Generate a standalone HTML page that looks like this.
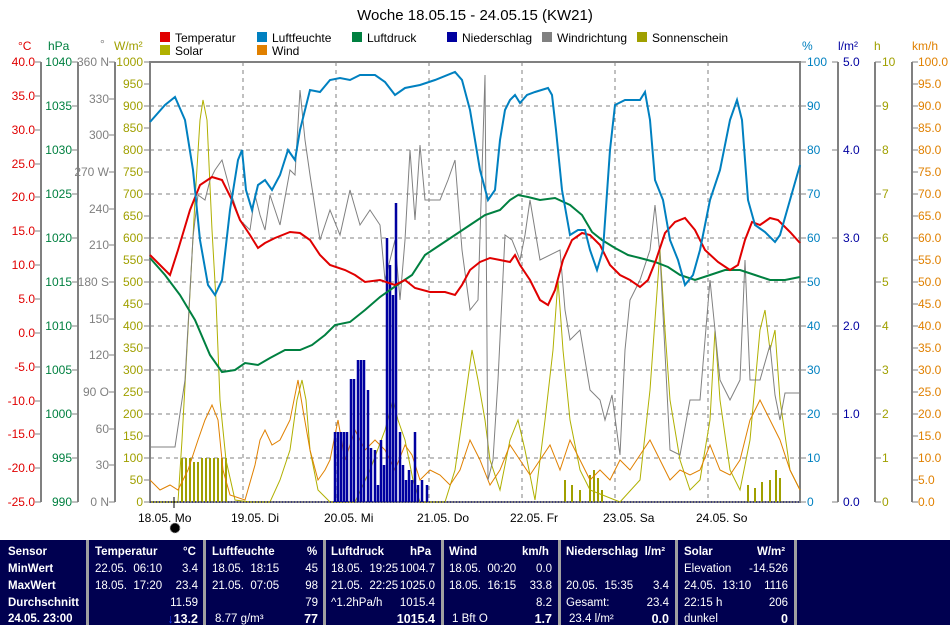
<!DOCTYPE html>
<html><head><meta charset="utf-8"><style>
body{margin:0;background:#fff;width:950px;height:625px;overflow:hidden;font-family:"Liberation Sans",sans-serif}
svg text{font-family:"Liberation Sans",sans-serif;font-size:12px}
#tbl{position:absolute;left:0;top:540px;width:950px;height:85px;background:#000050;color:#fff;font-size:11.5px;line-height:13px}
.c{position:absolute;top:0;height:85px;border-left:3px solid #a0a0a0}
.r{position:absolute;white-space:pre}
.b{font-weight:bold}
</style></head><body>
<svg width="950" height="540" style="position:absolute;left:0;top:0">
<text x="475" y="20" text-anchor="middle" style="font-size:15px">Woche 18.05.15 - 24.05.15 (KW21)</text>
<g>
<rect x="160" y="32" width="10" height="10" fill="#e00000"/><text x="175" y="42">Temperatur</text>
<rect x="257" y="32" width="10" height="10" fill="#0080c0"/><text x="272" y="42">Luftfeuchte</text>
<rect x="352" y="32" width="10" height="10" fill="#008040"/><text x="367" y="42">Luftdruck</text>
<rect x="447" y="32" width="10" height="10" fill="#0000a0"/><text x="462" y="42">Niederschlag</text>
<rect x="542" y="32" width="10" height="10" fill="#808080"/><text x="557" y="42">Windrichtung</text>
<rect x="637" y="32" width="10" height="10" fill="#a0a000"/><text x="652" y="42">Sonnenschein</text>
<rect x="160" y="45" width="10" height="10" fill="#b0b000"/><text x="175" y="55">Solar</text>
<rect x="257" y="45" width="10" height="10" fill="#e08000"/><text x="272" y="55">Wind</text>
</g>
<text x="18" y="50" fill="#e00000">°C</text>
<text x="48" y="50" fill="#008040">hPa</text>
<text x="100" y="48" fill="#808080">°</text>
<text x="114" y="50" fill="#a0a000">W/m²</text>
<text x="802" y="50" fill="#0080c0">%</text>
<text x="838" y="50" fill="#0000a0">l/m²</text>
<text x="874" y="50" fill="#a0a000">h</text>
<text x="912" y="50" fill="#e08000">km/h</text>
<g stroke="#808080" stroke-width="2">
<line x1="41" y1="62" x2="41" y2="502"/><line x1="78" y1="62" x2="78" y2="502"/><line x1="115" y1="62" x2="115" y2="502"/>
<line x1="838" y1="62" x2="838" y2="502"/><line x1="875" y1="62" x2="875" y2="502"/><line x1="912" y1="62" x2="912" y2="502"/>
</g>
<g stroke="#808080" stroke-dasharray="4,4" stroke-width="1">
<line x1="150" y1="106" x2="800" y2="106"/><line x1="150" y1="150" x2="800" y2="150"/><line x1="150" y1="194" x2="800" y2="194"/><line x1="150" y1="238" x2="800" y2="238"/><line x1="150" y1="282" x2="800" y2="282"/><line x1="150" y1="326" x2="800" y2="326"/><line x1="150" y1="370" x2="800" y2="370"/><line x1="150" y1="414" x2="800" y2="414"/><line x1="150" y1="458" x2="800" y2="458"/>
<line x1="243" y1="62" x2="243" y2="502"/><line x1="336" y1="62" x2="336" y2="502"/><line x1="429" y1="62" x2="429" y2="502"/><line x1="522" y1="62" x2="522" y2="502"/><line x1="615" y1="62" x2="615" y2="502"/><line x1="708" y1="62" x2="708" y2="502"/>
</g>
<rect x="150" y="62" width="650" height="440" fill="none" stroke="#808080" stroke-width="2"/>
<g fill="#e00000" text-anchor="end">
<text x="35" y="66">40.0</text><text x="35" y="100">35.0</text><text x="35" y="134">30.0</text><text x="35" y="168">25.0</text><text x="35" y="201">20.0</text><text x="35" y="235">15.0</text><text x="35" y="269">10.0</text><text x="35" y="303">5.0</text><text x="35" y="337">0.0</text><text x="35" y="371">-5.0</text><text x="35" y="405">-10.0</text><text x="35" y="438">-15.0</text><text x="35" y="472">-20.0</text><text x="35" y="506">-25.0</text>
</g>
<g stroke="#808080"><path d="M35 62h6M35 96h6M35 130h6M35 164h6M35 197h6M35 231h6M35 265h6M35 299h6M35 333h6M35 367h6M35 401h6M35 434h6M35 468h6M35 502h6"/>
<path d="M72 62h6M72 106h6M72 150h6M72 194h6M72 238h6M72 282h6M72 326h6M72 370h6M72 414h6M72 458h6M72 502h6"/>
<path d="M109 62h6M109 99h6M109 135h6M109 172h6M109 209h6M109 245h6M109 282h6M109 319h6M109 355h6M109 392h6M109 429h6M109 465h6M109 502h6"/>
<path d="M144 62h6M144 84h6M144 106h6M144 128h6M144 150h6M144 172h6M144 194h6M144 216h6M144 238h6M144 260h6M144 282h6M144 304h6M144 326h6M144 348h6M144 370h6M144 392h6M144 414h6M144 436h6M144 458h6M144 480h6M144 502h6"/>
<path d="M800 62h6M800 106h6M800 150h6M800 194h6M800 238h6M800 282h6M800 326h6M800 370h6M800 414h6M800 458h6M800 502h6"/>
<path d="M832 62h6M832 150h6M832 238h6M832 326h6M832 414h6M832 502h6"/>
<path d="M875 62h6M875 106h6M875 150h6M875 194h6M875 238h6M875 282h6M875 326h6M875 370h6M875 414h6M875 458h6M875 502h6"/>
<path d="M912 62h6M912 84h6M912 106h6M912 128h6M912 150h6M912 172h6M912 194h6M912 216h6M912 238h6M912 260h6M912 282h6M912 304h6M912 326h6M912 348h6M912 370h6M912 392h6M912 414h6M912 436h6M912 458h6M912 480h6M912 502h6"/>
</g>
<g fill="#008040" text-anchor="end">
<text x="72" y="66">1040</text><text x="72" y="110">1035</text><text x="72" y="154">1030</text><text x="72" y="198">1025</text><text x="72" y="242">1020</text><text x="72" y="286">1015</text><text x="72" y="330">1010</text><text x="72" y="374">1005</text><text x="72" y="418">1000</text><text x="72" y="462">995</text><text x="72" y="506">990</text>
</g>
<g fill="#808080" text-anchor="end">
<text x="109" y="66">360 N</text><text x="109" y="103">330</text><text x="109" y="139">300</text><text x="109" y="176">270 W</text><text x="109" y="213">240</text><text x="109" y="249">210</text><text x="109" y="286">180 S</text><text x="109" y="323">150</text><text x="109" y="359">120</text><text x="109" y="396">90 O</text><text x="109" y="433">60</text><text x="109" y="469">30</text><text x="109" y="506">0 N</text>
</g>
<g fill="#a0a000" text-anchor="end">
<text x="143" y="66">1000</text><text x="143" y="88">950</text><text x="143" y="110">900</text><text x="143" y="132">850</text><text x="143" y="154">800</text><text x="143" y="176">750</text><text x="143" y="198">700</text><text x="143" y="220">650</text><text x="143" y="242">600</text><text x="143" y="264">550</text><text x="143" y="286">500</text><text x="143" y="308">450</text><text x="143" y="330">400</text><text x="143" y="352">350</text><text x="143" y="374">300</text><text x="143" y="396">250</text><text x="143" y="418">200</text><text x="143" y="440">150</text><text x="143" y="462">100</text><text x="143" y="484">50</text><text x="143" y="506">0</text>
</g>
<g fill="#0080c0">
<text x="807" y="66">100</text><text x="807" y="110">90</text><text x="807" y="154">80</text><text x="807" y="198">70</text><text x="807" y="242">60</text><text x="807" y="286">50</text><text x="807" y="330">40</text><text x="807" y="374">30</text><text x="807" y="418">20</text><text x="807" y="462">10</text><text x="807" y="506">0</text>
</g>
<g fill="#0000a0">
<text x="843" y="66">5.0</text><text x="843" y="154">4.0</text><text x="843" y="242">3.0</text><text x="843" y="330">2.0</text><text x="843" y="418">1.0</text><text x="843" y="506">0.0</text>
</g>
<g fill="#a0a000">
<text x="882" y="66">10</text><text x="882" y="110">9</text><text x="882" y="154">8</text><text x="882" y="198">7</text><text x="882" y="242">6</text><text x="882" y="286">5</text><text x="882" y="330">4</text><text x="882" y="374">3</text><text x="882" y="418">2</text><text x="882" y="462">1</text><text x="882" y="506">0</text>
</g>
<g fill="#e08000">
<text x="918" y="66">100.0</text><text x="918" y="88">95.0</text><text x="918" y="110">90.0</text><text x="918" y="132">85.0</text><text x="918" y="154">80.0</text><text x="918" y="176">75.0</text><text x="918" y="198">70.0</text><text x="918" y="220">65.0</text><text x="918" y="242">60.0</text><text x="918" y="264">55.0</text><text x="918" y="286">50.0</text><text x="918" y="308">45.0</text><text x="918" y="330">40.0</text><text x="918" y="352">35.0</text><text x="918" y="374">30.0</text><text x="918" y="396">25.0</text><text x="918" y="418">20.0</text><text x="918" y="440">15.0</text><text x="918" y="462">10.0</text><text x="918" y="484">5.0</text><text x="918" y="506">0.0</text>
</g>
<g stroke="#a0a000" stroke-width="2">
<path d="M182 502V458M186 502V458M190 502V458M194 502V462M198 502V462M202 502V458M206 502V458M210 502V458M214 502V458M218 502V458M222 502V458M226 502V458"/>
<path d="M565 502V480M572 502V485M580 502V490M590 502V475M594 502V470M598 502V478M602 502V490M748 502V485M755 502V488M762 502V482M770 502V480M776 502V470M780 502V478"/>
</g>
<polyline fill="none" stroke="#b0b000" stroke-width="1" points="150,502 178,502 182,440 188,330 195,200 200,120 203,100 207,120 212,230 216,300 220,400 226,460 235,500 250,502 270,502 280,480 290,450 297,400 302,380 306,400 310,450 318,490 330,502 355,502 370,470 385,430 393,400 398,420 405,440 413,480 420,502 445,502 455,470 465,400 472,350 478,380 485,420 490,460 500,490 510,440 518,420 525,450 535,500 545,420 553,350 558,280 563,350 570,420 580,470 590,490 620,502 640,480 650,390 655,320 660,250 665,330 670,400 680,460 690,490 700,480 710,420 715,330 720,400 730,470 740,490 750,440 760,330 765,310 770,350 775,330 780,400 790,470 800,490"/>
<polyline fill="none" stroke="#e08000" stroke-width="1" points="150,480 160,490 170,485 178,490 188,470 198,440 205,420 212,405 218,420 223,470 230,495 245,500 255,465 260,440 265,430 272,445 280,440 290,420 298,380 303,410 310,450 318,480 325,470 330,460 338,420 345,460 355,430 365,450 375,440 385,450 395,470 405,445 412,455 420,480 430,470 440,475 450,485 460,470 470,440 480,460 490,485 500,470 510,445 520,460 530,475 540,460 550,445 560,470 570,440 580,460 590,480 600,470 610,480 620,460 630,470 640,455 650,440 660,460 670,480 680,470 690,475 700,470 710,445 720,470 730,475 740,460 750,420 760,400 770,420 780,440 790,470 800,490"/>
<polyline fill="none" stroke="#808080" stroke-width="1" points="150,447 175,447 185,380 193,237 198,195 205,200 210,180 215,170 222,160 230,190 240,220 250,230 255,195 260,215 265,230 270,195 280,225 290,170 295,175 300,90 305,140 310,175 320,240 330,210 340,235 350,190 360,225 370,210 380,225 385,280 390,260 395,240 400,300 405,240 410,150 415,220 420,145 425,200 440,200 448,180 455,160 462,250 470,310 478,300 485,75 488,480 493,460 498,380 505,235 512,240 520,260 525,235 530,200 540,260 560,250 565,310 570,340 580,330 590,390 600,400 605,420 612,395 620,455 625,350 630,300 640,280 650,250 655,205 660,255 670,450 680,455 690,400 700,400 710,280 720,380 730,400 740,380 745,260 750,380 760,380 770,345 775,395 780,420 785,393 800,393"/>
<g stroke="#0000a0" stroke-width="2.5">
<path d="M335 502V432M338 502V432M341 502V432M344 502V432M347 502V432M351 502V379M354 502V379M358 502V360M361 502V360M364 502V360M368 502V390M371 502V448M375 502V450M378 502V485M381 502V440M384 502V465M387 502V238M390 502V265M393 502V295M396 502V203M400 502V432M403 502V465M406 502V480M409 502V470M412 502V480M415 502V432M418 502V485M422 502V480M427 502V485"/>
</g>
<polyline fill="none" stroke="#008040" stroke-width="2" points="150,258 165,275 180,295 195,320 210,355 222,372 235,370 245,363 258,365 270,358 285,350 300,350 312,345 325,335 335,325 350,322 365,310 380,297 390,290 400,283 412,275 425,255 440,245 455,235 470,225 485,215 500,210 510,200 518,195 528,197 540,200 555,198 570,205 582,215 592,232 602,240 615,248 628,255 640,258 655,262 668,267 680,275 695,280 710,275 725,270 740,270 755,275 770,280 785,280 800,277"/>
<polyline fill="none" stroke="#e00000" stroke-width="2" points="150,255 160,265 170,275 178,250 190,210 200,185 212,177 222,180 232,200 240,220 250,235 258,248 265,243 275,238 290,232 300,233 310,240 320,255 330,265 345,270 355,275 365,282 380,280 395,285 405,280 415,288 430,292 445,292 455,295 462,285 470,270 480,262 490,258 500,260 510,262 515,255 520,265 530,280 540,300 548,305 555,290 563,260 572,240 582,233 590,235 600,245 610,265 620,275 630,280 640,287 648,280 656,260 665,233 675,222 685,218 695,230 705,250 718,262 730,270 738,265 745,240 752,222 760,225 770,218 778,220 790,232 800,243"/>
<polyline fill="none" stroke="#0080c0" stroke-width="2" points="150,122 165,105 175,97 185,120 193,170 200,240 208,285 215,295 222,280 230,210 238,160 242,150 246,190 252,210 258,185 265,180 272,190 280,175 288,150 295,160 300,130 310,90 320,92 330,80 340,78 350,80 360,75 375,75 385,82 395,95 405,88 420,85 435,80 455,72 462,80 470,110 480,170 488,200 495,190 500,140 505,110 510,100 515,95 520,103 527,95 535,92 548,88 552,95 556,130 562,190 570,235 578,230 585,230 590,250 597,270 603,250 610,150 615,105 625,100 640,100 645,92 650,120 655,180 663,200 670,240 678,260 685,285 693,275 700,250 710,200 720,170 730,120 737,100 742,120 748,200 755,225 765,232 775,242 780,235 790,200 800,165"/>
<line x1="150" y1="502" x2="800" y2="502" stroke="#000080" stroke-width="1" stroke-dasharray="1,2"/>
<g fill="#000">
<text x="138" y="522">18.05.  Mo</text><text x="231" y="522">19.05.  Di</text><text x="324" y="522">20.05.  Mi</text><text x="417" y="522">21.05.  Do</text><text x="510" y="522">22.05.  Fr</text><text x="603" y="522">23.05.  Sa</text><text x="696" y="522">24.05.  So</text>
</g>
<line x1="174" y1="497" x2="174" y2="508" stroke="#000" stroke-width="1"/>
<circle cx="175" cy="528" r="5" fill="#000" stroke="#bbb" stroke-dasharray="1,1"/>
</svg>
<div id="tbl">
<div class="c" style="left:86px"></div><div class="c" style="left:203px"></div><div class="c" style="left:323px"></div><div class="c" style="left:441px"></div><div class="c" style="left:558px"></div><div class="c" style="left:675px"></div><div class="c" style="left:794px"></div>
<div class="r b" style="left:8px;top:6px">Sensor</div><div class="r b" style="left:8px;top:23px">MinWert</div><div class="r b" style="left:8px;top:40px">MaxWert</div><div class="r b" style="left:8px;top:57px">Durchschnitt</div><div class="r b" style="left:8px;top:73px">24.05. 23:00</div>
<div class="r b" style="left:95px;top:6px">Temperatur</div><div class="r b" style="left:183px;top:6px">°C</div>
<div class="r" style="left:95px;top:23px">22.05.  06:10</div><div class="r" style="right:752px;top:23px">3.4</div>
<div class="r" style="left:95px;top:40px">18.05.  17:20</div><div class="r" style="right:752px;top:40px">23.4</div>
<div class="r" style="right:752px;top:57px">11.59</div>
<div class="r b" style="right:752px;top:73px;font-size:12.5px"><span style="color:#2040ff">↓</span>13.2</div>
<div class="r b" style="left:212px;top:6px">Luftfeuchte</div><div class="r b" style="left:307px;top:6px">%</div>
<div class="r" style="left:212px;top:23px">18.05.  18:15</div><div class="r" style="right:632px;top:23px">45</div>
<div class="r" style="left:212px;top:40px">21.05.  07:05</div><div class="r" style="right:632px;top:40px">98</div>
<div class="r" style="right:632px;top:57px">79</div>
<div class="r" style="left:215px;top:73px">8.77 g/m³</div><div class="r b" style="right:632px;top:73px;font-size:12.5px">77</div>
<div class="r b" style="left:331px;top:6px">Luftdruck</div><div class="r b" style="left:410px;top:6px">hPa</div>
<div class="r" style="left:331px;top:23px">18.05.  19:25</div><div class="r" style="right:515px;top:23px">1004.7</div>
<div class="r" style="left:331px;top:40px">21.05.  22:25</div><div class="r" style="right:515px;top:40px">1025.0</div>
<div class="r" style="left:331px;top:57px">^1.2hPa/h</div><div class="r" style="right:515px;top:57px">1015.4</div>
<div class="r b" style="right:515px;top:73px;font-size:12.5px">1015.4</div>
<div class="r b" style="left:449px;top:6px">Wind</div><div class="r b" style="left:522px;top:6px">km/h</div>
<div class="r" style="left:449px;top:23px">18.05.  00:20</div><div class="r" style="right:398px;top:23px">0.0</div>
<div class="r" style="left:449px;top:40px">18.05.  16:15</div><div class="r" style="right:398px;top:40px">33.8</div>
<div class="r" style="right:398px;top:57px">8.2</div>
<div class="r" style="left:452px;top:73px">1 Bft O</div><div class="r b" style="right:398px;top:73px;font-size:12.5px">1.7</div>
<div class="r b" style="left:566px;top:6px">Niederschlag  l/m²</div>
<div class="r" style="left:566px;top:40px">20.05.  15:35</div><div class="r" style="right:281px;top:40px">3.4</div>
<div class="r" style="left:566px;top:57px">Gesamt:</div><div class="r" style="right:281px;top:57px">23.4</div>
<div class="r" style="left:569px;top:73px">23.4 l/m²</div><div class="r b" style="right:281px;top:73px;font-size:12.5px">0.0</div>
<div class="r b" style="left:684px;top:6px">Solar</div><div class="r b" style="left:757px;top:6px">W/m²</div>
<div class="r" style="left:684px;top:23px">Elevation</div><div class="r" style="right:162px;top:23px">-14.526</div>
<div class="r" style="left:684px;top:40px">24.05.  13:10</div><div class="r" style="right:162px;top:40px">1116</div>
<div class="r" style="left:684px;top:57px">22:15 h</div><div class="r" style="right:162px;top:57px">206</div>
<div class="r" style="left:684px;top:73px">dunkel</div><div class="r b" style="right:162px;top:73px;font-size:12.5px">0</div>
</div>
</body></html>
